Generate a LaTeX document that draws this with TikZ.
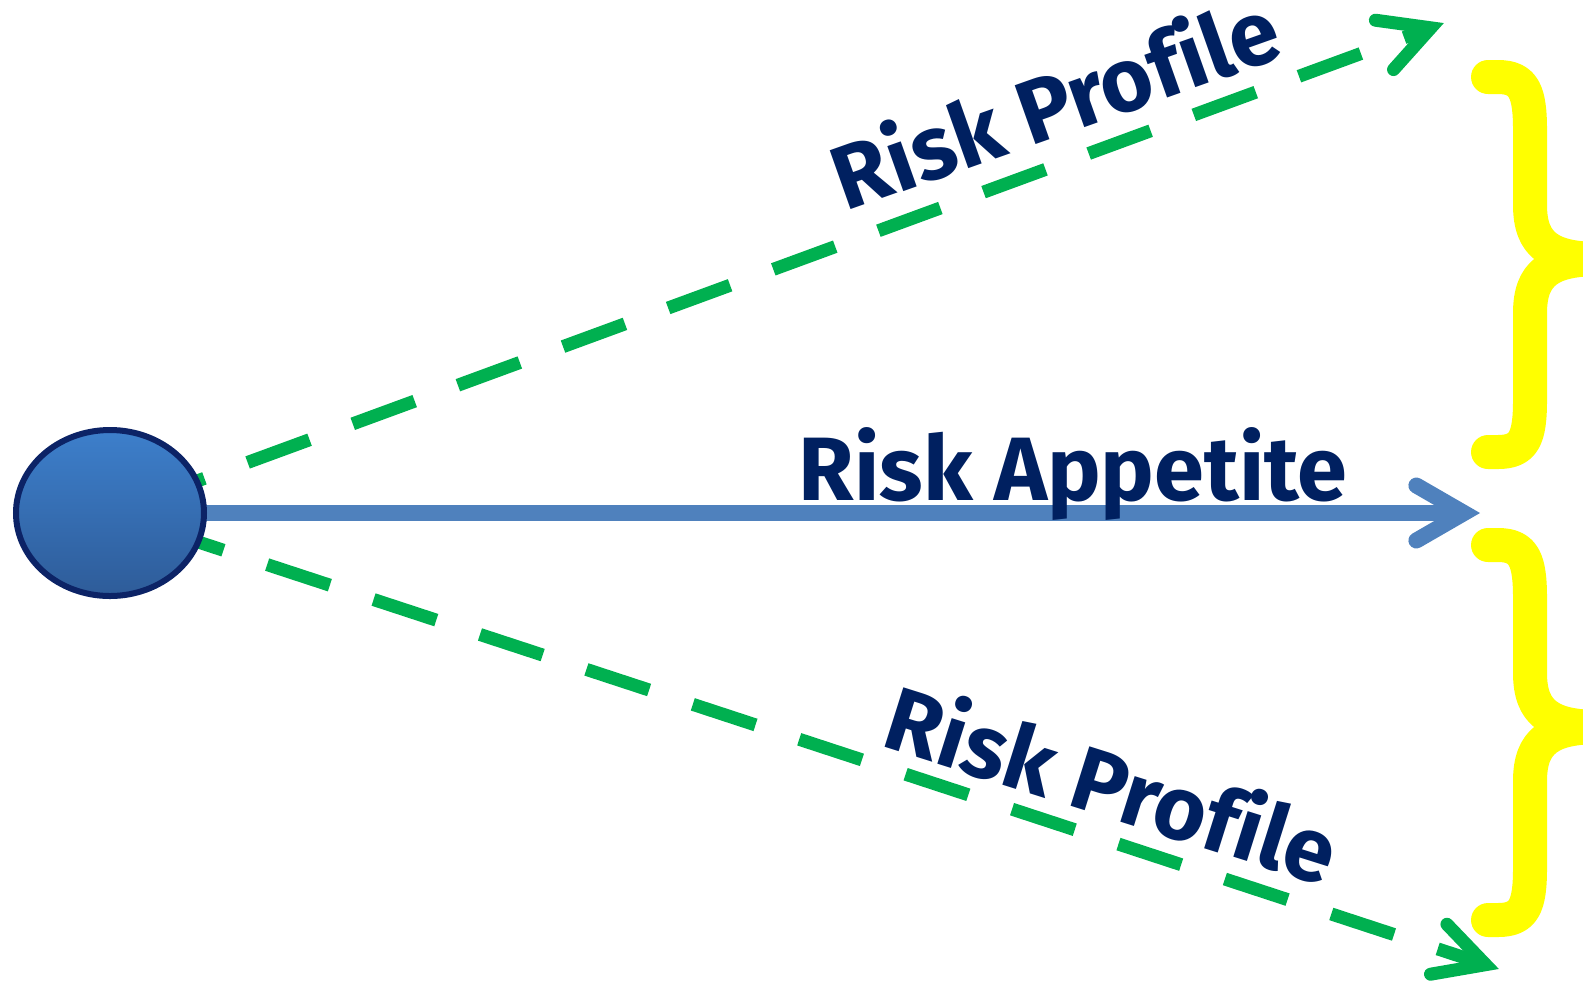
\documentclass[tikz,border=0pt]{standalone}
\usepackage{fontspec}
\setmainfont{Fira Sans}[Ligatures=CommonOff]
\usetikzlibrary{calc,shapes.geometric}
\definecolor{navy}{HTML}{002060}
\definecolor{ringblue}{HTML}{0C2366}
\definecolor{arrowblue}{HTML}{4F81BD}
\definecolor{dashgreen}{HTML}{00B050}
\definecolor{braceyellow}{HTML}{FFFF00}
\definecolor{balltop}{HTML}{3D7FCB}
\definecolor{ballbottom}{HTML}{2E5C99}

\begin{document}
\begin{tikzpicture}[x=0.5pt,y=-0.5pt,
  label text/.style={text=navy, font=\fontsize{45}{54}\selectfont\bfseries, inner sep=0pt, anchor=base},
  profile line/.style={draw=dashgreen, line width=6.5pt, dash pattern=on 33pt off 23pt},
  green barb/.style={draw=dashgreen, line width=6.5pt, line cap=round, line join=miter},
  appetite line/.style={draw=arrowblue, line width=8pt},
  blue barb/.style={draw=arrowblue, line width=8pt, line cap=round, line join=miter},
  brace stroke/.style={draw=braceyellow, line width=17pt, line cap=round, line join=round},
]
\useasboundingbox (0,0) rectangle (1583,982);
\clip (0,0) rectangle (1583,982);

% common origin of the three arrows
\coordinate (o) at (110,513);

% arrow tips and the joints of their barbs
\coordinate (tUp) at (1444,23);
\coordinate (tMid) at (1480,513);
\coordinate (tLow) at (1499,969);
\coordinate (vUp) at ($(tUp)!7pt!(o)$);
\coordinate (vMid) at ($(tMid)!8pt!(o)$);
\coordinate (vLow) at ($(tLow)!7pt!(o)$);

% dashed profile arrows
\draw[profile line, dash phase=38.7pt] (o) -- (vUp);
\draw[green barb] ($(vUp)!28pt!28:(o)$) -- (vUp) -- ($(vUp)!28pt!-28:(o)$);
\draw[profile line, dash phase=29.3pt] (o) -- (vLow);
\draw[green barb] ($(vLow)!28pt!28:(o)$) -- (vLow) -- ($(vLow)!28pt!-28:(o)$);

% solid appetite arrow
\draw[appetite line] (o) -- (vMid);
\draw[blue barb] ($(vMid)!27.5pt!30:(o)$) -- (vMid) -- ($(vMid)!27.5pt!-30:(o)$);

% starting point
\node[ellipse, draw=ringblue, line width=3pt, top color=balltop, bottom color=ballbottom,
      minimum width=94pt, minimum height=83pt, inner sep=0pt] (ball) at (o) {};

% labels
\node[label text] (appetite) at (1073,500) {Risk Appetite};
\node[label text, rotate=19.5] (profileUp) at (1066,134) {Risk Profile};
\node[label text, rotate=-17.5] (profileLow) at (1102,816) {Risk Profile};

% braces on the right
\foreach \dy in {0,468}{
  \draw[brace stroke, shift={(0,\dy)}]
    (1488,77) -- (1498,77) .. controls (1524,77) and (1530,92) .. (1530,130)
    -- (1530,205) .. controls (1530,245) and (1550,259) .. (1600,259)
    .. controls (1550,259) and (1530,273) .. (1530,313)
    -- (1530,400) .. controls (1530,438) and (1524,452) .. (1498,452) -- (1488,452);
}
\end{tikzpicture}
\end{document}
